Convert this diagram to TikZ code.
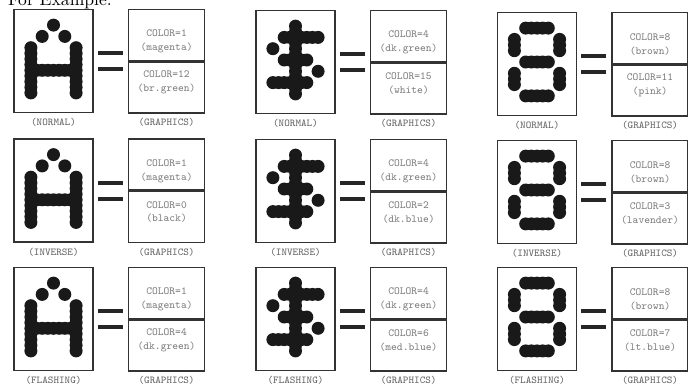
\documentclass[tikz,border=0pt]{standalone}
\usetikzlibrary{positioning}
\tikzstyle{chr}=[draw=black!80, line width=0.9pt, inner sep=0pt,
                 minimum width=1.58cm, minimum height=2.06cm]
\tikzstyle{gfx}=[draw=black!80, line width=0.9pt, inner sep=0pt,
                 minimum width=1.52cm, minimum height=1.02cm]
\tikzstyle{colr}=[align=center, inner sep=0pt,
                  font=\fontsize{6.2}{7.8}\ttfamily, text=black!50]
\tikzstyle{tag}=[inner sep=1pt, font=\fontsize{6}{7}\ttfamily, text=black!60]
\tikzstyle{pix}=[fill=black!90]
\tikzstyle{eqbar}=[line width=2.3pt, black!85]

% dot cells as col/row on a 5x7 grid, half steps fill the gaps
\newcommand{\glyphA}{2/0, 1/1, 3/1, 0/2, 4/2, 0/3, 4/3, 0/4, 1/4, 2/4, 3/4, 4/4,
  0/5, 4/5, 0/6, 4/6, 0/2.5, 0/3.5, 0/4.5, 0/5.5, 4/2.5, 4/3.5, 4/4.5, 4/5.5,
  0.5/4, 1.5/4, 2.5/4, 3.5/4}
\newcommand{\glyphDollar}{2/0, 1/1, 2/1, 3/1, 4/1, 0/2, 2/2, 1/3, 2/3, 3/3, 2/4, 4/4,
  0/5, 1/5, 2/5, 3/5, 2/6, 2/0.5, 2/1.5, 2/2.5, 2/3.5, 2/4.5, 2/5.5,
  1.5/1, 2.5/1, 3.5/1, 1.5/3, 2.5/3, 0.5/5, 1.5/5, 2.5/5}
\newcommand{\glyphEight}{1/0, 2/0, 3/0, 0/1, 4/1, 0/2, 4/2, 1/3, 2/3, 3/3, 0/4, 4/4,
  0/5, 4/5, 1/6, 2/6, 3/6, 1.5/0, 2.5/0, 1.5/3, 2.5/3, 1.5/6, 2.5/6,
  0/1.5, 0/4.5, 4/1.5, 4/4.5}

% #1 name, #2 centre, #3 dots, #4 mode, #5/#6 colour texts
\newcommand{\panel}[6]{%
  \node[chr] (#1) at (#2) {};
  \node[gfx, right=0.68cm of #1.north east, anchor=north west] (#1top) {};
  \node[gfx, below=0cm of #1top] (#1bot) {};
  \node[colr] (#1c1) at ([yshift=-0.13cm]#1top.center) {#5};
  \node[colr] (#1c2) at ([yshift=0.1cm]#1bot.center) {#6};
  \node[tag, below=0.06cm of #1] (#1mode) {#4};
  \node[tag] (#1gfx) at (#1mode -| #1bot) {(GRAPHICS)};
  \coordinate (#1eq) at (#1.east |- #1bot.north west);
  \draw[eqbar] ([shift={(4,-8)}]#1eq) -- ([shift={(-5,-8)}]#1bot.north west);
  \draw[eqbar] ([shift={(4,8)}]#1eq) -- ([shift={(-5,8)}]#1bot.north west);
  \foreach \c/\r in #3
    \fill[pix] ([shift={({(\c-2)*11.3},{(\r-3)*11.3-2})}]#1.center) circle[radius=1.3mm];
}

\begin{document}
\begin{tikzpicture}[x=0.02cm, y=-0.02cm]
    \useasboundingbox (0,0) rectangle (688,389);
    \node[anchor=base west, font=\fontsize{10}{12}\selectfont] (head) at (2,5) {For Example:};
    % normal row
    \panel{an}{53.5,61}{\glyphA}{(NORMAL)}{COLOR=1\\(magenta)}{COLOR=12\\(br.green)}
    \panel{dn}{295.5,62}{\glyphDollar}{(NORMAL)}{COLOR=4\\(dk.green)}{COLOR=15\\(white)}
    \panel{en}{537,64}{\glyphEight}{(NORMAL)}{COLOR=8\\(brown)}{COLOR=11\\(pink)}
    % inverse row
    \panel{ai}{53.5,190.5}{\glyphA}{(INVERSE)}{COLOR=1\\(magenta)}{COLOR=0\\(black)}
    \panel{di}{295.5,191}{\glyphDollar}{(INVERSE)}{COLOR=4\\(dk.green)}{COLOR=2\\(dk.blue)}
    \panel{ei}{537,192}{\glyphEight}{(INVERSE)}{COLOR=8\\(brown)}{COLOR=3\\(lavender)}
    % flashing row
    \panel{af}{53.5,319}{\glyphA}{(FLASHING)}{COLOR=1\\(magenta)}{COLOR=4\\(dk.green)}
    \panel{df}{295.5,319}{\glyphDollar}{(FLASHING)}{COLOR=4\\(dk.green)}{COLOR=6\\(med.blue)}
    \panel{ef}{537,319}{\glyphEight}{(FLASHING)}{COLOR=8\\(brown)}{COLOR=7\\(lt.blue)}
\end{tikzpicture}
\end{document}
